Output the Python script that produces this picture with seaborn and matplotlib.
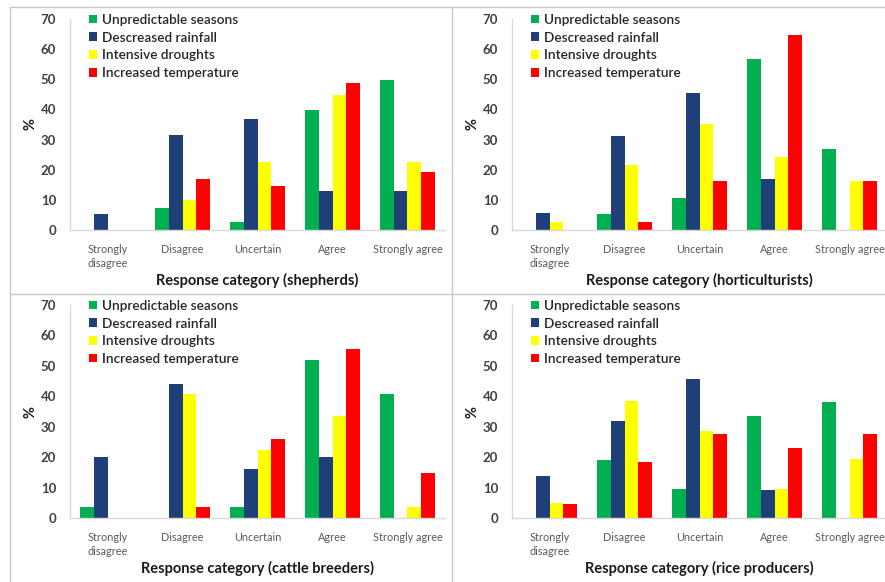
import pandas as pd
import matplotlib.pyplot as plt
import seaborn as sns
from matplotlib.lines import Line2D
from matplotlib.ticker import FixedLocator

# Response categories and the four perceived climate changes
categories = ["Strongly\ndisagree", "Disagree", "Uncertain", "Agree", "Strongly agree"]
series = ["Unpredictable seasons", "Descreased rainfall", "Intensive droughts", "Increased temperature"]
colors = ["#00B050", "#1F3F78", "#FFFF00", "#FF0000"]

# % of respondents per category, one list per series
shepherds = {
    "Unpredictable seasons": [0, 7.4, 2.5, 39.8, 49.8],
    "Descreased rainfall": [5.2, 31.5, 36.8, 13.1, 13.1],
    "Intensive droughts": [0, 10.0, 22.5, 44.8, 22.5],
    "Increased temperature": [0, 16.9, 14.7, 48.7, 19.4],
}
horticulturists = {
    "Unpredictable seasons": [0, 5.3, 10.6, 56.6, 26.9],
    "Descreased rainfall": [5.8, 31.3, 45.6, 16.9, 0],
    "Intensive droughts": [2.8, 21.6, 35.0, 24.1, 16.2],
    "Increased temperature": [0, 2.7, 16.2, 64.8, 16.2],
}
cattle_breeders = {
    "Unpredictable seasons": [3.7, 0, 3.7, 52.0, 40.7],
    "Descreased rainfall": [20.0, 44.0, 16.2, 20.0, 0],
    "Intensive droughts": [0, 40.9, 22.5, 33.5, 3.7],
    "Increased temperature": [0, 3.7, 26.1, 55.6, 14.9],
}
rice_producers = {
    "Unpredictable seasons": [0, 19.1, 9.6, 33.5, 38.2],
    "Descreased rainfall": [13.8, 31.9, 45.7, 9.2, 0],
    "Intensive droughts": [4.8, 38.3, 28.5, 9.5, 19.4],
    "Increased temperature": [4.6, 18.4, 27.5, 23.0, 27.5],
}

panels = [
    ("shepherds", shepherds),
    ("horticulturists", horticulturists),
    ("cattle breeders", cattle_breeders),
    ("rice producers", rice_producers),
]

sns.set_theme(style="white")
plt.rcParams["font.family"] = ["Lato", "DejaVu Sans"]

W, H = 885, 582
fig = plt.figure(figsize=(W / 100, H / 100), dpi=100)

# axes boxes in pixels: (left, zero line y, top line y)
boxes = [(70, 230, 19), (512, 230, 19), (70, 518, 305), (512, 518, 305)]
axis_w = 375

for (name, data), (x0, y0, y1) in zip(panels, boxes):
    ax = fig.add_axes([x0 / W, 1 - y0 / H, axis_w / W, (y0 - y1) / H])
    df = pd.DataFrame(data, index=categories).reset_index(names="category")
    df = df.melt(id_vars="category", var_name="series", value_name="pct")
    sns.barplot(data=df, x="category", y="pct", hue="series", order=categories,
                hue_order=series, palette=colors, width=0.73, saturation=1,
                linewidth=0, ax=ax)
    ax.set_xlim(-0.5, 4.5)
    ax.set_ylim(0, 70)
    ax.set_yticks(range(0, 71, 10))
    ax.tick_params(axis="y", labelsize=9.5, labelcolor="#404040", pad=10, length=0)
    for t in ax.get_yticklabels():
        t.set_fontweight("bold")
    ax.tick_params(axis="x", labelsize=7.8, labelcolor="#595959", pad=10, length=0)
    ax.xaxis.set_minor_locator(FixedLocator([0.5, 1.5, 2.5, 3.5]))
    ax.tick_params(axis="x", which="minor", length=4, color="#d9d9d9", width=1, direction="out")
    for t in ax.get_xticklabels():
        t.set_linespacing(1.3)
    for s in ["top", "right"]:
        ax.spines[s].set_visible(False)
    for s in ["left", "bottom"]:
        ax.spines[s].set_color("#d9d9d9")
        ax.spines[s].set_linewidth(1)
    ax.set_xlabel(f"Response category ({name})", fontsize=10.5, fontweight="bold",
                  color="#1a1a1a", labelpad=3)
    ax.set_ylabel("%", fontsize=10.5, fontweight="bold", color="#1a1a1a", labelpad=2)
    ax.legend(loc="upper left", bbox_to_anchor=(0.035, 1.05), frameon=False,
              prop={"size": 9.8, "weight": "semibold"}, handlelength=0.6,
              handleheight=0.6, handletextpad=0.4, labelspacing=0.42,
              borderaxespad=0, labelcolor="#262626")

# panel frame lines
line_kw = dict(transform=fig.transFigure, color="#c8c8c8", lw=1)
fig.add_artist(Line2D([452 / W, 452 / W], [0, 1 - 7 / H], **line_kw))
fig.add_artist(Line2D([10 / W, 1], [1 - 294 / H, 1 - 294 / H], **line_kw))
fig.add_artist(Line2D([10 / W, 1], [1 - 7 / H, 1 - 7 / H], **line_kw))
fig.add_artist(Line2D([10 / W, 10 / W], [0, 1 - 7 / H], **line_kw))

fig.savefig("out.png", dpi=100)
